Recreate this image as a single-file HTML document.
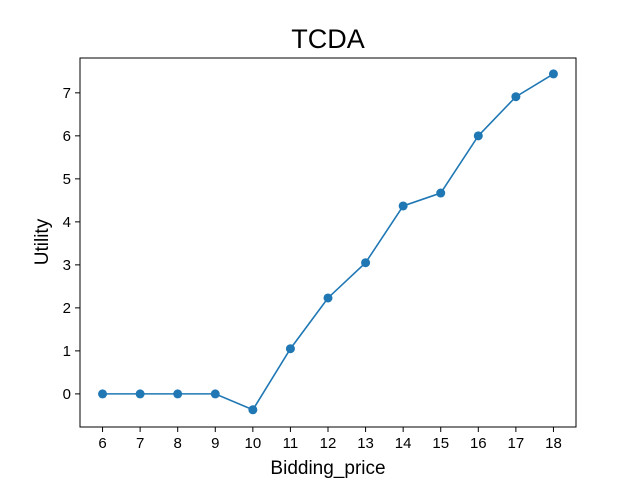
<!DOCTYPE html>
<html><head><meta charset="utf-8"><style>
html,body{margin:0;padding:0;background:#fff;}
svg{display:block;font-family:"Liberation Sans","DejaVu Sans",sans-serif;}
</style></head><body>
<svg id="chart" width="640" height="480" xmlns="http://www.w3.org/2000/svg"></svg>
<script>
const categories = [6,7,8,9,10,11,12,13,14,15,16,17,18];
const utilityValues = [0,0,0,0,-0.37,1.05,2.23,3.05,4.37,4.67,6.0,6.91,7.44];
const yTicks = [0,1,2,3,4,5,6,7];

const L=80,R=576,T=58,B=427;
const xMin=5.4,xMax=18.6,yMin=-0.77,yMax=7.81;
const xs=v=>L+(v-xMin)/(xMax-xMin)*(R-L);
const ys=v=>B-(v-yMin)/(yMax-yMin)*(B-T);
const svg=document.getElementById('chart');
const NS='http://www.w3.org/2000/svg';
function mk(tag,attrs,text){const e=document.createElementNS(NS,tag);for(const k in attrs)e.setAttribute(k,attrs[k]);if(text!==undefined)e.textContent=text;svg.appendChild(e);return e;}

let t=mk('text',{x:328,y:48,'text-anchor':'middle','font-size':27,fill:'#000'},'TCDA');



categories.forEach(c=>{
  const x=xs(c);
  let l=mk('line',{x1:x,x2:x,y1:B,y2:B+5,stroke:'#000','stroke-width':1});
  
  
  let tx=mk('text',{x:x,y:B+21,'text-anchor':'middle','font-size':15,fill:'#000'},String(c));
  
  
});
yTicks.forEach(v=>{
  const y=ys(v);
  let l=mk('line',{x1:L-5,x2:L,y1:y,y2:y,stroke:'#000','stroke-width':1});
  
  
  let tx=mk('text',{x:L-9,y:y+5,'text-anchor':'end','font-size':15,fill:'#000'},String(v));
  
  
});

let xl=mk('text',{x:328,y:474,'text-anchor':'middle','font-size':19,fill:'#000'},'Bidding_price');


let yl=mk('text',{x:48,y:242,'text-anchor':'middle','font-size':19,fill:'#000',transform:'rotate(-90 48 242)'},'Utility');



const pts=categories.map((c,i)=>xs(c)+','+ys(utilityValues[i])).join(' ');
let pl=mk('polyline',{points:pts,fill:'none',stroke:'#1f77b4','stroke-width':1.6});


categories.forEach((c,i)=>{
  let p=mk('circle',{cx:xs(c),cy:ys(utilityValues[i]),r:4.5,fill:'#1f77b4'});
  
  
});

let fr=mk('rect',{x:L,y:T,width:R-L,height:B-T,fill:'none',stroke:'#000','stroke-width':1});


</script>
</body></html>
